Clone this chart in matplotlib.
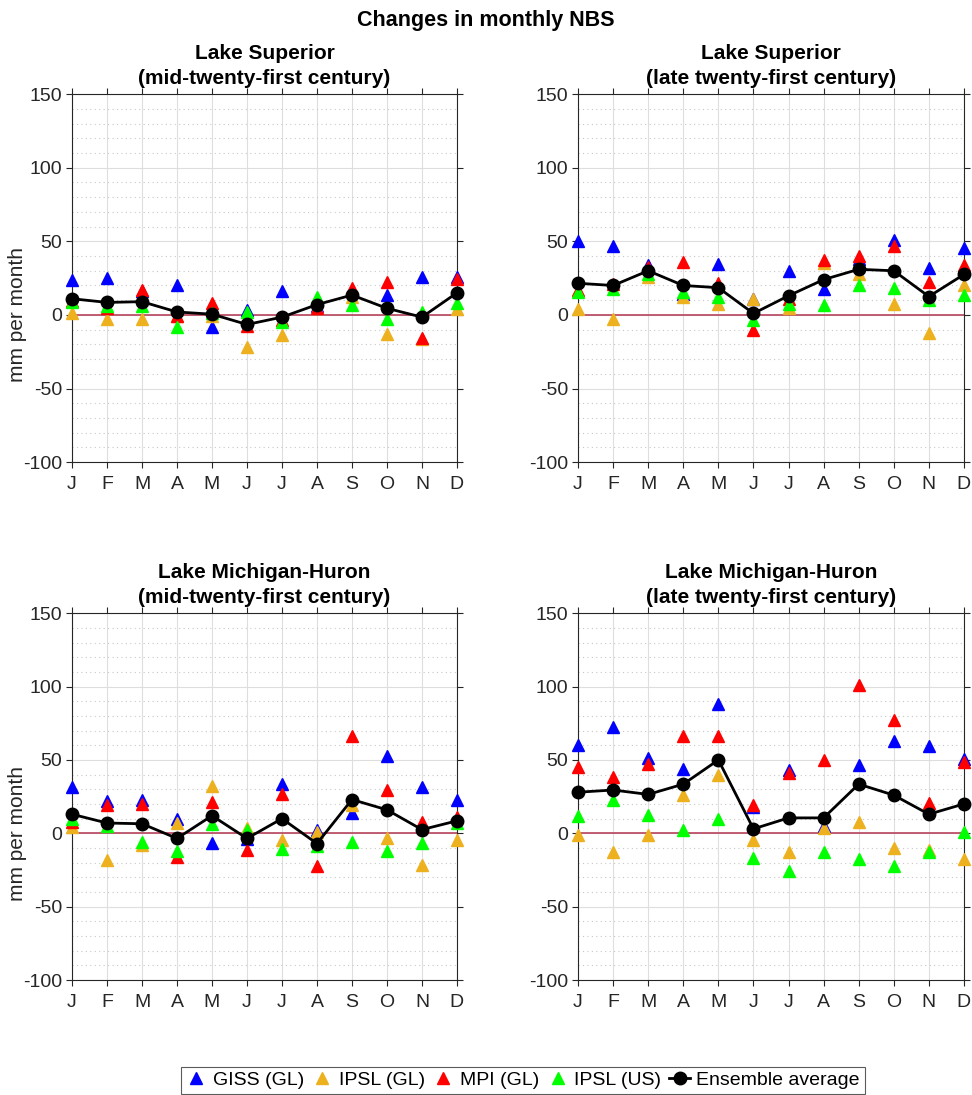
import matplotlib
matplotlib.use('Agg')
import matplotlib.pyplot as plt
from matplotlib.ticker import MultipleLocator

plt.rcParams['font.family'] = ['Liberation Sans', 'DejaVu Sans']
plt.rcParams['axes.unicode_minus'] = False

months = ['J', 'F', 'M', 'A', 'M', 'J', 'J', 'A', 'S', 'O', 'N', 'D']

# Lake Superior, mid-twenty-first century
sup_mid_giss = [24, 25, 16.5, 20.5, -8.5, 3.5, 16, 6, 17, 13.5, 26, 25.5]
sup_mid_ipsl_gl = [1.5, -2.5, -2.5, -1, -1, -22, -13.5, 5, 12, -13, -16.5, 4]
sup_mid_mpi = [9.5, 5, 17, -1, 8, -7.5, -3.5, 4.5, 18, 22.5, -15.5, 24.5]
sup_mid_ipsl_us = [9, 6, 6, -8.5, 1, 2, -4.5, 12, 7, -3, 2, 8]
sup_mid_ens = [11, 8.5, 9, 2, 0.5, -6.5, -1.5, 7, 13.5, 4.5, -1.5, 15]

# Lake Superior, late twenty-first century
sup_late_giss = [50, 47, 34, 14, 34.5, 11, 30, 17.5, 38, 51, 32, 45.5]
sup_late_ipsl_gl = [4, -3, 26, 12.5, 7.5, 10.5, 4.5, 35, 27.5, 7.5, -12, 20]
sup_late_mpi = [17, 21, 32.5, 36, 22, -10, 11, 37, 40, 47, 22.5, 34]
sup_late_ipsl_us = [15.5, 17.5, 27.5, 15.5, 12.5, -3.5, 7.5, 7, 20, 18, 10, 13.5]
sup_late_ens = [21.5, 20, 30, 20, 18.5, 1, 13, 24, 31, 30, 12.5, 27.5]

# Lake Michigan-Huron, mid-twenty-first century
mh_mid_giss = [31.5, 22, 22.5, 10, -6.5, -4, 33.5, 2.5, 13.5, 53, 31.5, 23]
mh_mid_ipsl_gl = [4.5, -18, -8, 7, 32, 3.5, -4.5, 1, 19, -3, -21.5, -4.5]
mh_mid_mpi = [7.5, 19.5, 20, -16, 21, -11.5, 27, -22, 66, 29.5, 8, 11]
mh_mid_ipsl_us = [10, 5, -6, -12, 6.5, 2.5, -10.5, -8.5, -6, -12, -6.5, 7]
mh_mid_ens = [13, 7, 6.5, -3.5, 12, -3.5, 10, -7, 23, 16, 2.5, 8.5]

# Lake Michigan-Huron, late twenty-first century
mh_late_giss = [60, 72.5, 51.5, 43.5, 88, 18, 43, 5, 46.5, 63, 59.5, 50.5]
mh_late_ipsl_gl = [-1, -12.5, -1, 26, 40, -4.5, -13, 3.5, 7.5, -10, -11.5, -17.5]
mh_late_mpi = [45.5, 38.5, 47, 66, 66, 19, 41, 50, 101, 77.5, 20.5, 48.5]
mh_late_ipsl_us = [11.5, 22.5, 12.5, 2.5, 10, -16.5, -25.5, -12.5, -17.5, -22.5, -13, 1]
mh_late_ens = [28, 29.5, 26.5, 33.5, 50, 3, 10.5, 10.5, 33.5, 26, 13, 20]

titles = ['Lake Superior\n(mid-twenty-first century)',
          'Lake Superior\n(late twenty-first century)',
          'Lake Michigan-Huron\n(mid-twenty-first century)',
          'Lake Michigan-Huron\n(late twenty-first century)']
panels = [
    (sup_mid_giss, sup_mid_ipsl_gl, sup_mid_mpi, sup_mid_ipsl_us, sup_mid_ens),
    (sup_late_giss, sup_late_ipsl_gl, sup_late_mpi, sup_late_ipsl_us, sup_late_ens),
    (mh_mid_giss, mh_mid_ipsl_gl, mh_mid_mpi, mh_mid_ipsl_us, mh_mid_ens),
    (mh_late_giss, mh_late_ipsl_gl, mh_late_mpi, mh_late_ipsl_us, mh_late_ens),
]
labels = ['GISS (GL)', 'IPSL (GL)', 'MPI (GL)', 'IPSL (US)']
colors = ['#0000ff', '#edb120', '#ff0000', '#00ff00']

positions = [
    [0.0741, 0.578, 0.396, 0.336],
    [0.5947, 0.578, 0.397, 0.336],
    [0.0741, 0.105, 0.396, 0.335],
    [0.5947, 0.105, 0.397, 0.335],
]

fig = plt.figure(figsize=(9.72, 10.95), dpi=100)
x = list(range(1, 13))
dark = '#262626'

for i, (pos, title, series) in enumerate(zip(positions, titles, panels)):
    ax = fig.add_axes(pos)
    ax.axhline(0, color='#b8435c', lw=1.2, zorder=2)
    for vals, lab, c in zip(series[:4], labels, colors):
        ax.plot(x, vals, ls='none', marker='^', ms=9, color=c, mec=c,
                label=lab, clip_on=False, zorder=3)
    ax.plot(x, series[4], color='black', lw=2, marker='o', ms=9,
            label='Ensemble average', clip_on=False, zorder=4)

    ax.set_xlim(1, 12)
    ax.set_ylim(-100, 150)
    ax.set_xticks(x)
    ax.set_xticklabels(months)
    ax.yaxis.set_major_locator(MultipleLocator(50))
    ax.yaxis.set_minor_locator(MultipleLocator(10))
    ax.grid(True, which='major', color='#dedede', lw=0.8, zorder=0)
    ax.grid(True, which='minor', axis='y', color='#c8c8c8', lw=0.8,
            ls=(0, (1, 3)), zorder=0)
    ax.tick_params(which='major', direction='out', length=4, width=0.8,
                   top=True, right=True, colors=dark, labelsize=14)
    ax.tick_params(axis='x', pad=6)
    ax.tick_params(axis='y', pad=3)
    ax.tick_params(which='minor', length=0)
    for s in ax.spines.values():
        s.set_color(dark)
        s.set_linewidth(0.8)
    ax.set_title(title, fontsize=15, fontweight='bold', pad=7, linespacing=1.4)
    if i % 2 == 0:
        ax.set_ylabel('mm per month', fontsize=15, color=dark)
        ax.yaxis.set_label_coords(-0.118, 0.4)

fig.suptitle('Changes in monthly NBS', fontsize=15.5, fontweight='bold', y=0.991)

handles, labs = ax.get_legend_handles_labels()
leg = fig.legend(handles, labs, loc='lower center', ncol=5,
                 bbox_to_anchor=(0.5376, 0.001), fontsize=14,
                 frameon=True, fancybox=False, edgecolor='#333333',
                 handlelength=1.1, handletextpad=0.3, columnspacing=0.4,
                 borderpad=0.25, borderaxespad=0)
leg.get_frame().set_linewidth(0.8)

fig.savefig('out.png', dpi=100)
